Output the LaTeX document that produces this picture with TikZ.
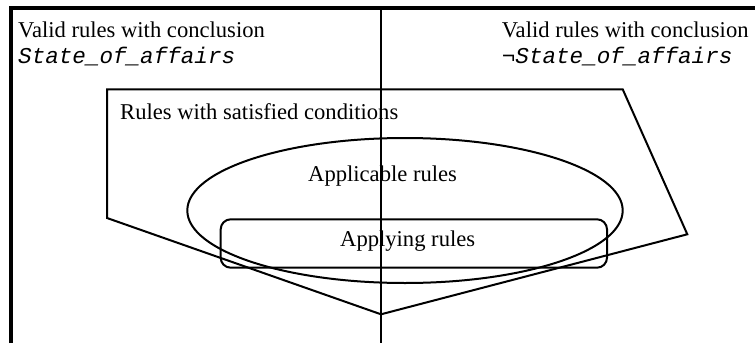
\documentclass[tikz,border=0pt]{standalone}
\usepackage{fontspec}
\setmainfont{Liberation Serif}
\newfontfamily\courfont{Liberation Mono}
\usetikzlibrary{positioning}

\tikzset{
  txt/.style={font=\fontsize{22.6}{26}\selectfont, inner sep=0pt, anchor=base west},
  cour/.style={font=\fontsize{22.6}{26}\selectfont\courfont\itshape, inner sep=0pt, anchor=base west},
  outl/.style={line width=2pt}
}

\begin{document}
\begin{tikzpicture}[x=1pt,y=-1pt]
\useasboundingbox (0,0) rectangle (755,343);
% frame and dividing line
\draw[line width=4pt] (11,343) -- (11,7.5) -- (755,7.5);
\draw[outl] (381,7.5) -- (381,343);

% satisfied conditions region
\draw[outl] (107,89.3) -- (622.7,89.3) -- (687.3,234.3) -- (381,314.3) -- (107,218) -- cycle;
\draw[outl] (405,210.5) ellipse [x radius=217.7pt, y radius=72.5pt];
\draw[outl,rounded corners=10pt] (220.7,219.3) rectangle (607,267.7);

\node[txt] (validL) at (18,37.3) {Valid rules with conclusion};
\node[cour] (concL) at (18,63) {State\_of\_affairs};
\node[txt] (validR) at (501.7,37.3) {Valid rules with conclusion};
\node[cour] (concR) at (501.7,63) {¬State\_of\_affairs};

\node[txt] (satisfied) at (120,119) {Rules with satisfied conditions};
\node[txt] (applicable) at (308,181.7) {Applicable rules};
\node[txt] (applying) at (340,246.7) {Applying rules};

\end{tikzpicture}
\end{document}
